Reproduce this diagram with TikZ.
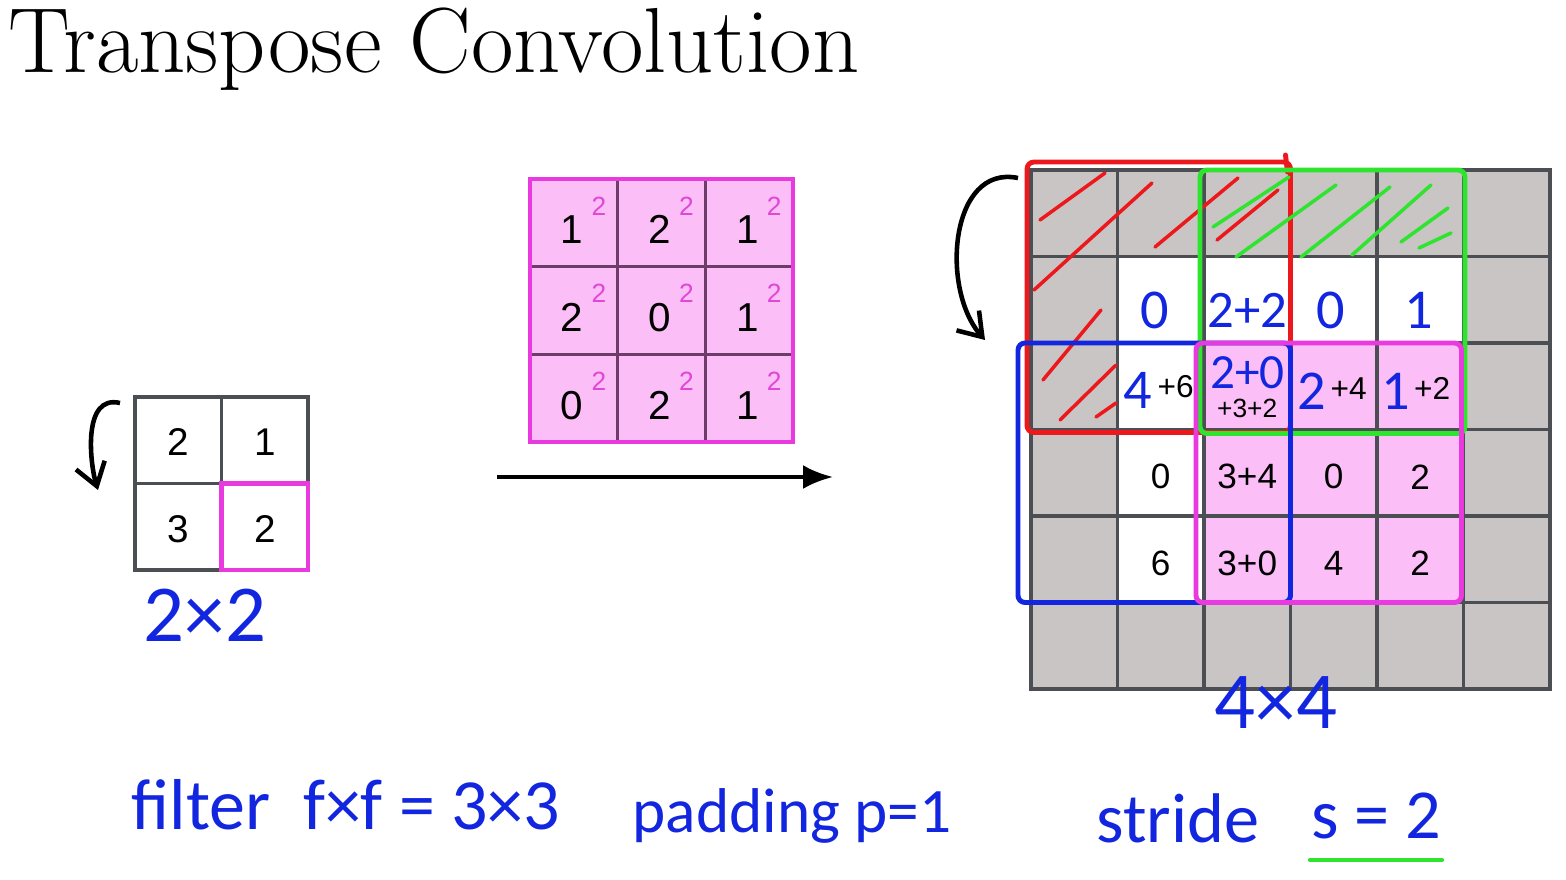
\documentclass[tikz,border=0pt]{standalone}
\usepackage{fontspec}
\usetikzlibrary{arrows.meta}
\newfontfamily\numfont{Liberation Sans}
\newfontfamily\handfont{Carlito}
\definecolor{padgray}{RGB}{201,197,197}
\definecolor{gridline}{RGB}{75,78,82}
\definecolor{pinkfill}{RGB}{252,190,246}
\definecolor{magline}{RGB}{232,58,222}
\definecolor{filterline}{RGB}{110,60,105}
\definecolor{supcolour}{RGB}{225,70,215}
\definecolor{penblue}{RGB}{18,38,224}
\definecolor{penred}{RGB}{236,24,28}
\definecolor{pengreen}{RGB}{46,228,46}

\begin{document}
\begin{tikzpicture}[
	cell/.style={draw=gridline, line width=0.9pt, minimum size=0.865cm, inner sep=0pt, outer sep=0pt},
	fcell/.style={draw=filterline, line width=0.8pt, fill=pinkfill, minimum size=0.877cm, inner sep=0pt, outer sep=0pt},
	num/.style={inner sep=0pt, font=\numfont\fontsize{10}{12}\selectfont},
	smallnum/.style={inner sep=0pt, font=\numfont\fontsize{9}{11}\selectfont},
	supnum/.style={inner sep=0pt, text=supcolour, font=\numfont\fontsize{7.5}{8}\selectfont},
	hand/.style={inner sep=0pt, text=penblue, font=\handfont\fontsize{20}{24}\selectfont},
	handcell/.style={inner sep=0pt, text=penblue, font=\handfont\fontsize{16}{18}\selectfont},
	pen/.style={line width=1.4pt, line cap=round, line join=round, rounded corners=2pt},
	hatch/.style={line width=1pt, line cap=round},
	curl/.style={line width=1.3pt, -{Straight Barb[length=2.2mm, width=3mm]}},
]
	\useasboundingbox (0,0) rectangle (15.66,8.79);

	\node[anchor=base west, inner sep=0pt, font=\fontsize{26.3}{30}\selectfont] (title) at (0.08,8.07) {Transpose Convolution};

	% input 2x2
	\foreach \r in {0,1}
		\foreach \c in {0,1}
			\node[cell] (in-\r-\c) at ({1.7825+0.865*\c}, {4.3875-0.865*\r}) {};
	\foreach \r/\c/\v in {0/0/2, 0/1/1, 1/0/3, 1/1/2}
		\node[num, font=\numfont\fontsize{11}{13}\selectfont] (inval-\r-\c) at ([yshift=-0.02cm]in-\r-\c) {\v};
	\draw[magline, line width=1.3pt] (in-1-1.north west) rectangle (in-1-1.south east);
	\coordinate (incurltop) at (1.20,4.76);
	\coordinate (incurltip) at (0.98,3.89);
	\draw[curl] (incurltop) .. controls (0.82,4.85) and (0.90,4.15) .. (incurltip);
	\node[hand, font=\handfont\fontsize{23}{26}\selectfont] (insize) at (2.05,2.64) {2×2};

	% filter 3x3
	\foreach \r in {0,1,2}
		\foreach \c in {0,1,2}
			\node[fcell] (f-\r-\c) at ({5.7385+0.877*\c}, {6.5615-0.877*\r}) {};
	\draw[magline, line width=1.3pt] (f-0-0.north west) rectangle (f-2-2.south east);
	\foreach \r/\c/\v in {0/0/1, 0/1/2, 0/2/1, 1/0/2, 1/1/0, 1/2/1, 2/0/0, 2/1/2, 2/2/1} {
		\node[num, font=\numfont\fontsize{11.5}{13}\selectfont] (fval-\r-\c) at ([xshift=-0.02cm, yshift=-0.07cm]f-\r-\c) {\v};
		\node[supnum] (fsup-\r-\c) at ([xshift=0.25cm, yshift=0.17cm]f-\r-\c) {2};
	}

	\coordinate (arrowstart) at (4.97,4.02);
	\coordinate (arrowend) at (8.33,4.02);
	\draw[line width=1.2pt, -{Latex[length=3mm, width=2.4mm]}] (arrowstart) -- (arrowend);

	% output 6x6
	\foreach \r in {0,...,5}
		\foreach \c in {0,...,5} {
			\def\cellcol{white}
			\ifnum\r>1 \ifnum\c>1 \def\cellcol{pinkfill}\fi\fi
			\ifnum\r=0 \def\cellcol{padgray}\fi
			\ifnum\r=5 \def\cellcol{padgray}\fi
			\ifnum\c=0 \def\cellcol{padgray}\fi
			\ifnum\c=5 \def\cellcol{padgray}\fi
			\node[cell, fill=\cellcol] (out-\r-\c) at ({10.7425+0.865*\c}, {6.6575-0.865*\r}) {};
		}

	\foreach \c/\v/\dx in {1/0/-0.06, 3/0/-0.03, 4/1/-0.02}
		\node[handcell] (top-\c) at ([xshift=\dx cm, yshift=-0.11cm]out-1-\c) {\v};
	\node[handcell, font=\handfont\fontsize{15}{17}\selectfont] (top-2) at ([yshift=-0.11cm]out-1-2) {2+2};
	\node[handcell] (mid-1) at ([xshift=-0.23cm, yshift=-0.04cm]out-2-1) {4};
	\node[smallnum] (add-1) at ([xshift=0.15cm]out-2-1) {+6};
	\node[handcell, font=\handfont\fontsize{14}{16}\selectfont] (mid-2) at ([yshift=0.14cm]out-2-2) {2+0};
	\node[smallnum, font=\numfont\fontsize{7.5}{9}\selectfont] (add-2) at ([yshift=-0.22cm]out-2-2) {+3+2};
	\node[handcell] (mid-3) at ([xshift=-0.22cm, yshift=-0.05cm]out-2-3) {2};
	\node[smallnum] (add-3) at ([xshift=0.15cm, yshift=-0.02cm]out-2-3) {+4};
	\node[handcell] (mid-4) at ([xshift=-0.25cm, yshift=-0.05cm]out-2-4) {1};
	\node[smallnum] (add-4) at ([xshift=0.12cm, yshift=-0.02cm]out-2-4) {+2};
	\foreach \r/\c/\v in {3/1/0, 3/2/3+4, 3/3/0, 3/4/2, 4/1/6, 4/2/3+0, 4/3/4, 4/4/2}
		\node[num] (val-\r-\c) at ([yshift=-0.04cm]out-\r-\c) {\v};

	% red window and hatching
	\draw[pen, penred] ([shift={(-0.04,0.08)}]out-0-0.north west) rectangle ([shift={(0,-0.03)}]out-2-2.south east);
	\draw[pen, penred] ([shift={(-0.05,0.15)}]out-0-2.north east) -- ([shift={(-0.03,-0.02)}]out-0-2.north east);
	\draw[hatch, penred] (10.40,6.59) -- (11.05,7.06);
	\draw[hatch, penred] (10.34,5.89) -- (11.52,6.96);
	\draw[hatch, penred] (11.55,6.32) -- (12.38,7.01);
	\draw[hatch, penred] (12.17,6.39) -- (12.78,6.89);
	\draw[hatch, penred] (10.43,4.99) -- (11.01,5.69);
	\draw[hatch, penred] (10.60,4.59) -- (11.16,5.14);
	\draw[hatch, penred] (10.96,4.62) -- (11.16,4.76);

	% green window and hatching
	\draw[pen, pengreen] ([shift={(-0.04,0)}]out-0-2.north west) rectangle ([shift={(0.015,-0.04)}]out-2-4.south east);
	\draw[hatch, pengreen] (12.13,6.52) -- (12.89,7.02);
	\draw[hatch, pengreen] (12.36,6.22) -- (13.36,6.94);
	\draw[hatch, pengreen] (13.01,6.22) -- (13.90,6.92);
	\draw[hatch, pengreen] (13.52,6.24) -- (14.31,6.94);
	\draw[hatch, pengreen] (14.01,6.37) -- (14.48,6.71);
	\draw[hatch, pengreen] (14.19,6.31) -- (14.51,6.46);

	% blue and magenta windows
	\draw[pen, penblue] ([shift={(-0.13,0)}]out-2-0.north west) rectangle (out-4-2.south east);
	\draw[pen, magline] ([shift={(-0.08,0)}]out-2-2.north west) rectangle ([shift={(-0.02,0)}]out-4-4.south east);

	\coordinate (outcurltop) at (10.18,7.01);
	\coordinate (outcurltip) at (9.85,5.39);
	\draw[curl] (outcurltop) .. controls (9.5,7.15) and (9.4,5.9) .. (outcurltip);
	\node[hand, font=\handfont\fontsize{23}{26}\selectfont] (outsize) at (12.76,1.76) {4×4};

	% bottom notes
	\node[hand, font=\handfont\fontsize{20.5}{24}\selectfont, anchor=base] (filternote) at (3.46,0.50) {filter~~f×f = 3×3};
	\node[hand, font=\handfont\fontsize{18}{22}\selectfont, anchor=base] (paddingnote) at (7.92,0.47) {padding p=1};
	\node[hand, anchor=base] (stridenote) at (11.78,0.37) {stride};
	\node[hand, anchor=base] (strideval) at (13.76,0.41) {s = 2};
	\draw[pen, pengreen] ([yshift=-0.22cm]strideval.base west) -- ([yshift=-0.22cm]strideval.base east);
\end{tikzpicture}
\end{document}
